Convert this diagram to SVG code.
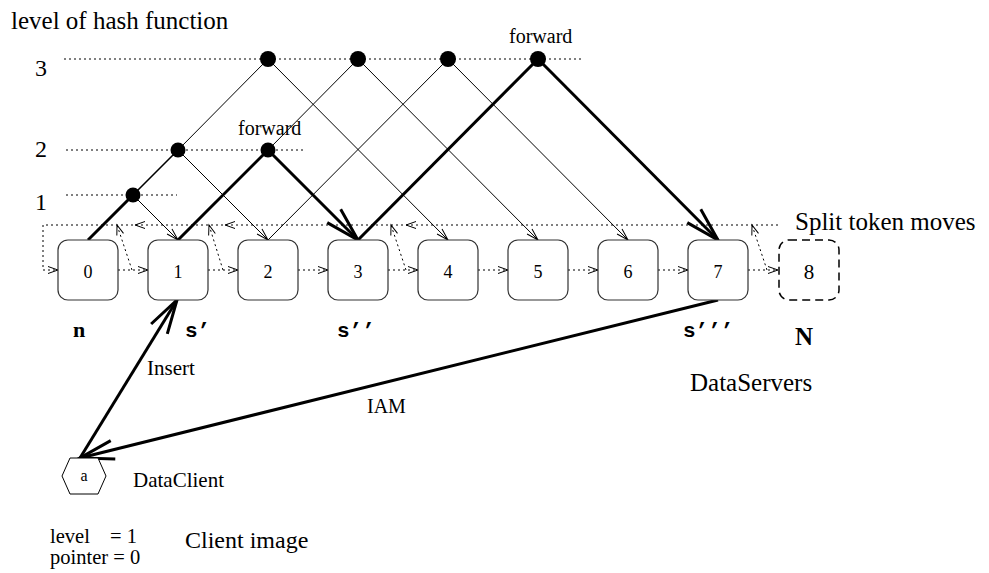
<svg xmlns="http://www.w3.org/2000/svg" width="989" height="573" viewBox="0 0 989 573">
<defs>
<style>
.t{font-family:"Liberation Serif","Times New Roman",serif;fill:#000}
.m{font-family:"Liberation Mono","Courier New",monospace;font-weight:bold;fill:#000}
.box{fill:#fff;stroke:#333;stroke-width:1.2}
.thin{stroke:#000;stroke-width:1;fill:none}
.med{stroke:#000;stroke-width:1.6;fill:none}
.bold{stroke:#000;stroke-width:3;fill:none}
.dot{stroke:#000;stroke-width:1;stroke-dasharray:2 3;fill:none}
.ah{stroke:#000;stroke-width:1;fill:none}
</style>
<marker id="thinA" markerUnits="userSpaceOnUse" viewBox="-40 -15 45 30" markerWidth="45" markerHeight="30" refX="0" refY="0" orient="auto">
<path d="M-12,-3.5 L0,0 L-12,3.5" fill="none" stroke="#000" stroke-width="1"/>
</marker>
<marker id="dotA" markerUnits="userSpaceOnUse" viewBox="-40 -15 45 30" markerWidth="45" markerHeight="30" refX="0" refY="0" orient="auto">
<path d="M-10,-3.5 L0,0 L-10,3.5" fill="none" stroke="#000" stroke-width="1"/>
</marker>
<marker id="boldA" markerUnits="userSpaceOnUse" viewBox="-40 -15 45 30" markerWidth="45" markerHeight="30" refX="0" refY="0" orient="auto">
<path d="M-34,-9.5 L0,0 L-34,9.5" fill="none" stroke="#000" stroke-width="3"/>
</marker>
</defs>
<rect width="989" height="573" fill="#fff"/>

<g id="labels">
<text class="t" x="11" y="29" font-size="25">level of hash function</text>
<text class="t" x="41" y="76" font-size="24" text-anchor="middle">3</text>
<text class="t" x="41" y="157" font-size="24" text-anchor="middle">2</text>
<text class="t" x="41" y="210" font-size="24" text-anchor="middle">1</text>
<text class="t" x="238" y="135" font-size="20">forward</text>
<text class="t" x="509" y="43" font-size="20">forward</text>
<text class="t" x="795" y="230" font-size="25">Split token moves</text>
<text class="t" x="73" y="337" font-size="22" font-weight="bold">n</text>
<text class="m" x="185" y="337" font-size="21">s’</text>
<text class="m" x="337" y="337" font-size="21">s’’</text>
<text class="m" x="683" y="337" font-size="21">s’’’</text>
<text class="t" x="795" y="345" font-size="25" font-weight="bold">N</text>
<text class="t" x="147" y="375" font-size="21">Insert</text>
<text class="t" x="367" y="413" font-size="20">IAM</text>
<text class="t" x="690" y="391" font-size="25">DataServers</text>
<text class="t" x="133" y="487" font-size="21">DataClient</text>
<text class="t" x="185" y="548" font-size="24">Client image</text>
<text class="t" x="50" y="543" font-size="20.5">level</text>
<text class="t" x="110" y="543" font-size="20.5">= 1</text>
<text class="t" x="50" y="564" font-size="20.5">pointer = 0</text>
</g>

<g id="levels">
<line class="dot" x1="64" y1="59" x2="583" y2="59"/>
<line class="dot" x1="66" y1="150" x2="303" y2="150"/>
<line class="dot" x1="66" y1="195" x2="177" y2="195"/>
</g>

<g id="connectors">
<line class="thin" x1="268" y1="59" x2="178" y2="150"/>
<line class="med" x1="178" y1="150" x2="133" y2="195"/>
<line class="bold" x1="133" y1="195" x2="88" y2="240"/>
<line class="thin" x1="133" y1="195" x2="178" y2="240" marker-end="url(#thinA)"/>
<line class="thin" x1="178" y1="150" x2="268" y2="240" marker-end="url(#thinA)"/>
<line class="thin" x1="268" y1="59" x2="448" y2="240" marker-end="url(#thinA)"/>
<line class="thin" x1="358" y1="59" x2="268" y2="150"/>
<line class="bold" x1="268" y1="150" x2="178" y2="240"/>
<line class="bold" x1="268" y1="150" x2="358" y2="240" marker-end="url(#boldA)"/>
<line class="thin" x1="358" y1="59" x2="538" y2="240" marker-end="url(#thinA)"/>
<line class="thin" x1="448" y1="59" x2="268" y2="240"/>
<line class="thin" x1="448" y1="59" x2="628" y2="240" marker-end="url(#thinA)"/>
<line class="bold" x1="538" y1="59" x2="358" y2="240"/>
<line class="bold" x1="538" y1="59" x2="718" y2="240" marker-end="url(#boldA)"/>

<polyline class="dot" points="778,225 43,225 43,270 58,270" marker-end="url(#dotA)"/>
<path class="ah" d="M145,221.5 L135,225 L145,228.5"/>
<path class="ah" d="M235,221.5 L225,225 L235,228.5"/>
<path class="ah" d="M416,221.5 L406,225 L416,228.5"/>
<line class="dot" x1="132" y1="270" x2="117" y2="225" marker-end="url(#dotA)"/>
<line class="dot" x1="223" y1="270" x2="209" y2="225" marker-end="url(#dotA)"/>
<line class="dot" x1="406" y1="270" x2="391" y2="225" marker-end="url(#dotA)"/>
<line class="dot" x1="767" y1="270" x2="752" y2="225" marker-end="url(#dotA)"/>
<line class="dot" x1="118" y1="270" x2="148" y2="270" marker-end="url(#dotA)"/>
<line class="dot" x1="208" y1="270" x2="238" y2="270" marker-end="url(#dotA)"/>
<line class="dot" x1="298" y1="270" x2="328" y2="270" marker-end="url(#dotA)"/>
<line class="dot" x1="388" y1="270" x2="418" y2="270" marker-end="url(#dotA)"/>
<line class="dot" x1="478" y1="270" x2="508" y2="270" marker-end="url(#dotA)"/>
<line class="dot" x1="568" y1="270" x2="598" y2="270" marker-end="url(#dotA)"/>
<line class="dot" x1="658" y1="270" x2="688" y2="270" marker-end="url(#dotA)"/>
<line class="dot" x1="748" y1="270" x2="778" y2="270" marker-end="url(#dotA)"/>

<line class="bold" x1="80" y1="458" x2="177" y2="300" marker-end="url(#boldA)"/>
<line class="bold" x1="718" y1="300" x2="80" y2="458" marker-end="url(#boldA)"/>
</g>

<g id="dots">
<circle cx="133" cy="195" r="7.5"/>
<circle cx="178" cy="150" r="7.5"/>
<circle cx="268" cy="150" r="7.5"/>
<circle cx="268" cy="59" r="8"/>
<circle cx="358" cy="59" r="8"/>
<circle cx="448" cy="59" r="8"/>
<circle cx="538" cy="59" r="8"/>
</g>

<g id="box0"><rect class="box" x="58" y="240" width="60" height="60" rx="10"/><text class="t" x="88" y="277.5" font-size="18" text-anchor="middle">0</text></g>
<g id="box1"><rect class="box" x="148" y="240" width="60" height="60" rx="10"/><text class="t" x="178" y="277.5" font-size="18" text-anchor="middle">1</text></g>
<g id="box2"><rect class="box" x="238" y="240" width="60" height="60" rx="10"/><text class="t" x="268" y="277.5" font-size="18" text-anchor="middle">2</text></g>
<g id="box3"><rect class="box" x="328" y="240" width="60" height="60" rx="10"/><text class="t" x="358" y="277.5" font-size="18" text-anchor="middle">3</text></g>
<g id="box4"><rect class="box" x="418" y="240" width="60" height="60" rx="10"/><text class="t" x="448" y="277.5" font-size="18" text-anchor="middle">4</text></g>
<g id="box5"><rect class="box" x="508" y="240" width="60" height="60" rx="10"/><text class="t" x="538" y="277.5" font-size="18" text-anchor="middle">5</text></g>
<g id="box6"><rect class="box" x="598" y="240" width="60" height="60" rx="10"/><text class="t" x="628" y="277.5" font-size="18" text-anchor="middle">6</text></g>
<g id="box7"><rect class="box" x="688" y="240" width="60" height="60" rx="10"/><text class="t" x="718" y="277.5" font-size="18" text-anchor="middle">7</text></g>
<g id="box8"><rect x="779" y="240" width="60" height="60" rx="10" fill="none" stroke="#000" stroke-width="1.5" stroke-dasharray="8 5"/><text class="t" x="809" y="279" font-size="21" text-anchor="middle">8</text></g>
<g id="client"><polygon points="62,476 70,458 98,458 106,476 98,494 70,494" fill="#fff" stroke="#000" stroke-width="1"/><text class="t" x="84" y="481" font-size="16" text-anchor="middle">a</text></g>
</svg>
